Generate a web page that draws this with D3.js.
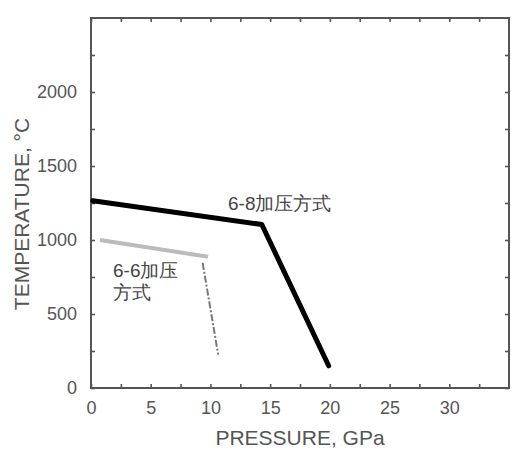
<!DOCTYPE html>
<html><head><meta charset="utf-8">
<script src="https://cdn.jsdelivr.net/npm/d3@7"></script>
<style>body{margin:0;background:#fff}</style>
</head><body>
<svg id="c" width="517" height="452"></svg>
<script>
const xTickValues = [0, 5, 10, 15, 20, 25, 30];
const yTickValues = [0, 500, 1000, 1500, 2000];
const line68 = [[0.15, 1265], [14.3, 1105], [19.9, 150]];
const line66 = [[0.75, 1000], [9.8, 887]];
const line66Drop = [[9.35, 845], [10.65, 225]];
const xTitle = "PRESSURE, GPa";
const yTitle = "TEMPERATURE, °C";
const label68 = "6-8加压方式";
const label66 = ["6-6加压", "方式"];

const svg = d3.select("#c");
const x = d3.scaleLinear().domain([0, 35]).range([91, 509]);
const y = d3.scaleLinear().domain([0, 2500]).range([388, 18]);
const axisCol = "#555";
const font = "'Liberation Sans', Arial, sans-serif";

const minorX = d3.range(0, 35, 2.5);
const minorY = d3.range(0, 2500, 250);

function styleAxis(g) {
  g.select(".domain").remove();
  g.selectAll(".tick line").attr("stroke", axisCol).attr("stroke-width", 1.6);
  g.selectAll(".tick text").attr("fill", "#555").attr("font-family", font).attr("font-size", 18);
}
const fmt = d => xTickValues.includes(d) ? d : "";
const fmtY = d => yTickValues.includes(d) ? d : "";

svg.append("g").attr("transform", `translate(0,${y(0)})`)
  .call(d3.axisBottom(x).tickValues(minorX).tickSize(-4).tickPadding(13).tickFormat(fmt)).call(styleAxis);
svg.append("g").attr("transform", `translate(0,${y(2500)})`)
  .call(d3.axisTop(x).tickValues(minorX).tickSize(-4).tickFormat("")).call(styleAxis);
svg.append("g").attr("transform", `translate(${x(0)},0)`)
  .call(d3.axisLeft(y).tickValues(minorY).tickSize(-4).tickPadding(14).tickFormat(fmtY)).call(styleAxis);
svg.append("g").attr("transform", `translate(${x(35)},0)`)
  .call(d3.axisRight(y).tickValues(minorY).tickSize(-4).tickFormat("")).call(styleAxis);

svg.append("rect").attr("x", x(0)).attr("y", y(2500))
  .attr("width", x(35) - x(0)).attr("height", y(0) - y(2500))
  .attr("fill", "none").attr("stroke", axisCol).attr("stroke-width", 2);

const ln = d3.line().x(d => x(d[0])).y(d => y(d[1]));
svg.append("path").datum(line66).attr("d", ln).attr("fill", "none")
  .attr("stroke", "#bbb").attr("stroke-width", 4);
svg.append("path").datum(line66Drop).attr("d", ln).attr("fill", "none")
  .attr("stroke", "#777").attr("stroke-width", 2).attr("stroke-dasharray", "7,2,2,2");
svg.append("path").datum(line68).attr("d", ln).attr("fill", "none")
  .attr("stroke", "#000").attr("stroke-width", 5).attr("stroke-linejoin", "round").attr("stroke-linecap", "round");

svg.append("text").attr("x", 228).attr("y", 210).text(label68)
  .attr("font-family", font).attr("font-size", 19).attr("fill", "#444");
label66.forEach((t, i) => svg.append("text").attr("x", 113).attr("y", 277 + i * 22).text(t)
  .attr("font-family", font).attr("font-size", 19).attr("fill", "#444"));

svg.append("text").attr("x", 300).attr("y", 445).attr("text-anchor", "middle").text(xTitle)
  .attr("font-family", font).attr("font-size", 21).attr("fill", "#555");
svg.append("text").attr("transform", "translate(29,214) rotate(-90)").attr("text-anchor", "middle").text(yTitle)
  .attr("font-family", font).attr("font-size", 21).attr("fill", "#555");
</script>
</body></html>
